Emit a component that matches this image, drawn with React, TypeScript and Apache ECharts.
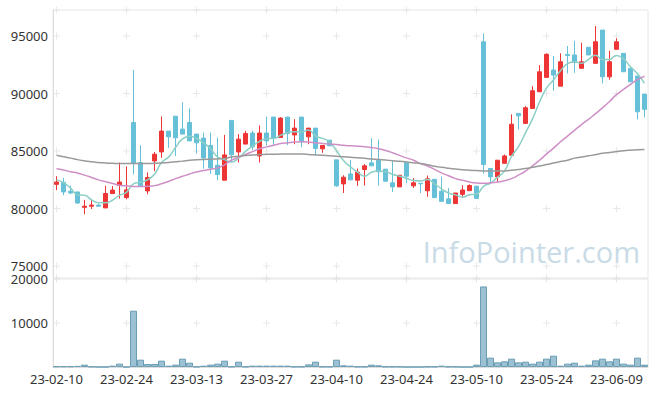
import React, { useEffect, useRef } from "react";
import * as echarts from "echarts";

const dates = [
  "23-02-10",
  "23-02-13", "23-02-14", "23-02-15", "23-02-16", "23-02-17",
  "23-02-20", "23-02-21", "23-02-22", "23-02-23", "23-02-24",
  "23-02-27", "23-02-28", "23-03-02", "23-03-03",
  "23-03-06", "23-03-07", "23-03-08", "23-03-09", "23-03-10",
  "23-03-13", "23-03-14", "23-03-15", "23-03-16", "23-03-17",
  "23-03-20", "23-03-21", "23-03-22", "23-03-23", "23-03-24",
  "23-03-27", "23-03-28", "23-03-29", "23-03-30", "23-03-31",
  "23-04-03", "23-04-04", "23-04-05", "23-04-06", "23-04-07",
  "23-04-10", "23-04-11", "23-04-12", "23-04-13", "23-04-14",
  "23-04-17", "23-04-18", "23-04-19", "23-04-20", "23-04-21",
  "23-04-24", "23-04-25", "23-04-26", "23-04-27", "23-04-28",
  "23-05-02", "23-05-03", "23-05-04",
  "23-05-08", "23-05-09", "23-05-10", "23-05-11", "23-05-12",
  "23-05-15", "23-05-16", "23-05-17", "23-05-18", "23-05-19",
  "23-05-22", "23-05-23", "23-05-24", "23-05-25", "23-05-26",
  "23-05-30", "23-05-31", "23-06-01", "23-06-02",
  "23-06-05",
  "23-06-07", "23-06-08", "23-06-09",
  "23-06-12", "23-06-13", "23-06-14", "23-06-15",
];

const opens = [
  82100, 82280, 81500, 81440, 80100, 80200, 80300, 80050, 81300, 82000,
  80950, 87480, 84000, 81530, 84140, 84920, 86730, 88030, 86900, 87480,
  86470, 86120, 85480, 83760, 82460, 87660, 84920, 85600, 86560, 84570,
  86560, 87950, 86180, 87950, 86400, 87950, 86230, 86990, 85190, 85940,
  84230, 82140, 83010, 82460, 83390, 83970, 84200, 83420, 82230, 81880,
  84000, 81970, 82200, 81540, 82540, 81490, 80840, 80430, 81230, 81550,
  81950, 94500, 83480, 82750, 83930, 84630, 88270, 87400, 88700, 90150,
  91400, 92040, 90640, 93400, 93350, 92190, 94020, 92620, 95520, 91450,
  93840, 93490, 92190, 91520, 89950,
];
const closes = [
  82300, 81440, 81350, 80480, 80200, 80300, 80200, 81300, 81600, 82300,
  81620, 83910, 81960, 82700, 84720, 86730, 86230, 86150, 86470, 85880,
  85710, 84400, 83530, 82950, 84660, 84670, 86030, 86530, 85360, 86560,
  85880, 86120, 87860, 86530, 86990, 85800, 86990, 85220, 85480, 85450,
  81970, 82720, 82490, 83160, 83710, 83710, 83190, 82370, 81880, 82890,
  82810, 82230, 82150, 82580, 80950, 80620, 80430, 81350, 81610, 82000,
  80880, 83820, 82750, 84200, 84570, 87330, 88060, 88760, 90240, 91890,
  93410, 91600, 92760, 93300, 92710, 92760, 93350, 94500, 91450, 92760,
  94500, 91890, 91020, 88410, 88620,
];
const lows = [
  81600, 81150, 81250, 80400, 79500, 79950, 80150, 80050, 81300, 80860,
  80800, 82980, 81900, 81240, 83240, 84400, 85270, 84570, 86470, 85880,
  84780, 83460, 83000, 82460, 82460, 84000, 84000, 85600, 85100, 84000,
  85480, 85470, 86180, 85510, 85590, 85330, 85590, 84610, 84840, 85450,
  81880, 81350, 82490, 81970, 82000, 83710, 82000, 82370, 81440, 81880,
  82200, 81790, 81350, 81020, 80950, 80620, 80430, 80430, 80960, 81550,
  80880, 83040, 82230, 82310, 83930, 84630, 86870, 87400, 88700, 90150,
  91400, 90240, 90640, 91750, 91800, 92190, 93350, 92620, 90880, 91200,
  93840, 91890, 91020, 87740, 87920,
];
const highs = [
  82800, 82660, 82000, 81440, 80750, 80750, 80400, 81980, 81950, 84000,
  83660, 92040, 85500, 83140, 84920, 88000, 86730, 88030, 89230, 88700,
  86470, 86600, 86600, 86150, 86400, 87660, 86470, 86760, 86760, 87220,
  88000, 87950, 87950, 87950, 87770, 87950, 86990, 86990, 85480, 85940,
  84230, 82890, 84230, 83480, 83860, 86120, 86000, 83420, 84110, 82890,
  84000, 82640, 82200, 82870, 82540, 82780, 81770, 81350, 82030, 82100,
  81950, 95230, 83480, 84200, 84700, 88190, 88270, 88900, 90640, 92470,
  93500, 93260, 93500, 94130, 94590, 94420, 94020, 95870, 95520, 93720,
  94800, 93490, 92190, 91520, 89950,
];

const volumes = [
  150, 150, 150, 250, 530, 100, 20, 20, 300, 760,
  20, 12790, 1665, 680, 680, 1440, 300, 530, 1890, 980,
  80, 300, 530, 760, 1440, 80, 1210, 80, 300, 300,
  300, 300, 300, 300, 80, 80, 600, 1210, 80, 80,
  1665, 380, 300, 80, 80, 530, 380, 80, 80, 80,
  10, 10, 10, 80, 80, 300, 80, 80, 10, 10,
  530, 18310, 2120, 1060, 1290, 1890, 1060, 1210, 760, 1210,
  1890, 2570, 300, 760, 980, 300, 530, 1510, 1890, 1290,
  1890, 760, 530, 2120, 530,
];

const ma5 = [
  82490, 82250, 81770, 81190, 81154, 80754, 80506, 80496, 80720, 81140,
  81404, 82146, 82278, 82498, 82982, 84004, 84468, 85306, 86060, 86292,
  86088, 85722, 85198, 84494, 84250, 84042, 84368, 84968, 85450, 85830,
  86072, 86090, 86356, 86590, 86676, 86660, 86834, 86306, 86096, 85788,
  85022, 84168, 83622, 83158, 82810, 83158, 83252, 83228, 82972, 82808,
  82628, 82436, 82392, 82532, 82144, 81706, 81346, 81186, 80992, 81202,
  81254, 81932, 82212, 82730, 83244, 84534, 85382, 86584, 87792, 89256,
  90472, 91180, 91980, 92592, 92756, 92626, 92976, 93324, 92954, 92964,
  93312, 93020, 92324, 91716, 90888,
];
const ma20 = [
  83450, 83350, 83200, 83080, 82900, 82700, 82490, 82330, 82180, 82030,
  81960, 81920, 81910, 81930, 81990, 82150, 82350, 82600, 82800, 83000,
  83170, 83300, 83420, 83520, 83800, 84200, 84450, 84700, 84950, 85200,
  85360, 85500, 85650, 85720, 85780, 85800, 85780, 85720, 85650, 85600,
  85560, 85500, 85450, 85420, 85380, 85300, 85200, 85050, 84850, 84620,
  84400, 84200, 83900, 83700, 83400, 83100, 82850, 82600, 82450, 82300,
  82220, 82200, 82230, 82300, 82420, 82600, 82900, 83250, 83700, 84200,
  84730, 85250, 85800, 86300, 86800, 87300, 87750, 88250, 88750, 89300,
  89900, 90350, 90800, 91200, 91500,
];
const ma60 = [
  84630, 84500, 84380, 84250, 84150, 84060, 84000, 83960, 83930, 83910,
  83910, 83910, 83910, 83920, 83930, 83960, 84000, 84060, 84120, 84190,
  84240, 84270, 84290, 84310, 84350, 84480, 84540, 84600, 84650, 84690,
  84710, 84720, 84730, 84740, 84740, 84730, 84700, 84660, 84620, 84590,
  84550, 84500, 84460, 84410, 84360, 84310, 84260, 84210, 84160, 84110,
  84050, 83980, 83910, 83810, 83680, 83580, 83500, 83430, 83370, 83330,
  83300, 83270, 83260, 83260, 83270, 83320, 83390, 83470, 83580, 83700,
  83820, 83950, 84080, 84200, 84380, 84480, 84580, 84680, 84800, 84880,
  84950, 85020, 85070, 85110, 85130,
];

const priceMin = 73957;
const priceMax = 97261;
const priceGridValues = [priceMin, 75000, 80000, 85000, 90000, 95000, priceMax];
const volumeGridValues = [10000, 20000];
const crossIndices = [0, 10, 20, 30, 40, 50, 60, 70, 80];

const UP = "#ee3535";
const DOWN = "#66c0d8";
const FONT = "Noto Sans";
const CROSS = "path://M3,0h1v3h3v1h-3v3h-1v-3h-3v-1h3z";
const plain = (v: number) => String(v);

export default function App() {
  const ref = useRef<HTMLDivElement>(null);
  useEffect(() => {
    if (!ref.current) return;
    const chart = echarts.init(ref.current, undefined, { renderer: "svg" });
    const candleData = dates.map((_, i) => [opens[i], closes[i], lows[i], highs[i]]);
    const priceCross: any[] = [];
    crossIndices.forEach((ci) => priceGridValues.forEach((v) => priceCross.push([dates[ci], v])));
    const volCross: any[] = [];
    crossIndices.forEach((ci) => volumeGridValues.forEach((v) => volCross.push([dates[ci], v])));

    chart.setOption({
      animation: false,
      textStyle: { fontFamily: FONT },
      grid: [
        { left: 53, right: 9, top: 10, height: 268, show: true, borderColor: "#e6e6e6", borderWidth: 1 },
        { left: 53, right: 9, top: 279, height: 88, show: true, borderColor: "#e6e6e6", borderWidth: 1 },
      ],
      xAxis: [
        {
          type: "category", gridIndex: 0, data: dates, boundaryGap: true,
          axisLine: { show: false }, axisTick: { show: false }, axisLabel: { show: false },
          splitLine: { show: false },
        },
        {
          type: "category", gridIndex: 1, data: dates, boundaryGap: true,
          axisLine: { show: true, lineStyle: { color: "#dddddd" } },
          axisTick: { show: false },
          axisLabel: { interval: 9, color: "#333", fontSize: 13, fontFamily: FONT, margin: 5 },
          splitLine: { show: false },
        },
      ],
      yAxis: [
        {
          type: "value", gridIndex: 0, min: priceMin, max: priceMax, scale: true,
          axisLine: { show: true, lineStyle: { color: "#dddddd" } },
          axisTick: { show: false },
          axisLabel: { color: "#333", fontSize: 13, fontFamily: FONT, showMinLabel: false, showMaxLabel: false, margin: 5, formatter: plain },
          splitLine: { show: false },
        },
        {
          type: "value", gridIndex: 1, min: 0, max: 20000, interval: 10000,
          axisLine: { show: true, lineStyle: { color: "#dddddd" } },
          axisTick: { show: false },
          axisLabel: { color: "#333", fontSize: 13, fontFamily: FONT, showMinLabel: false, margin: 5, formatter: plain },
          splitLine: { show: false },
        },
      ],
      graphic: [
        {
          type: "text", right: 17, top: 237, z: 0, silent: true,
          style: { text: "InfoPointer.com", fill: "#c9dbe6", font: "29px 'Open Sans'" },
        },
      ],
      series: [
        {
          type: "scatter", xAxisIndex: 0, yAxisIndex: 0, data: priceCross,
          symbol: CROSS, symbolSize: 7, itemStyle: { color: "#e2e2e2" }, silent: true, z: 1,
        },
        {
          type: "scatter", xAxisIndex: 1, yAxisIndex: 1, data: volCross,
          symbol: CROSS, symbolSize: 7, itemStyle: { color: "#e2e2e2" }, silent: true, z: 1,
        },
        {
          type: "candlestick", xAxisIndex: 0, yAxisIndex: 0, data: candleData,
          barWidth: "72%",
          itemStyle: { color: UP, color0: DOWN, borderColor: UP, borderColor0: DOWN, borderWidth: 1 },
          z: 3,
        },
        {
          type: "line", xAxisIndex: 0, yAxisIndex: 0, data: ma5, smooth: true, showSymbol: false,
          lineStyle: { color: "#8ccfc5", width: 1.5 }, z: 4,
        },
        {
          type: "line", xAxisIndex: 0, yAxisIndex: 0, data: ma20, smooth: true, showSymbol: false,
          lineStyle: { color: "#cf8fc6", width: 1.5 }, z: 4,
        },
        {
          type: "line", xAxisIndex: 0, yAxisIndex: 0, data: ma60, smooth: true, showSymbol: false,
          lineStyle: { color: "#9a9a9a", width: 1.5 }, z: 4,
        },
        {
          type: "bar", xAxisIndex: 1, yAxisIndex: 1, data: volumes, barCategoryGap: "0%",
          itemStyle: { color: "#9cc1d2", borderColor: "#6b9db5", borderWidth: 1 }, z: 3,
        },
      ],
    });
    return () => chart.dispose();
  }, []);
  return <div ref={ref} style={{ position: "absolute", left: 0, top: 0, width: 657, height: 396 }} />;
}
